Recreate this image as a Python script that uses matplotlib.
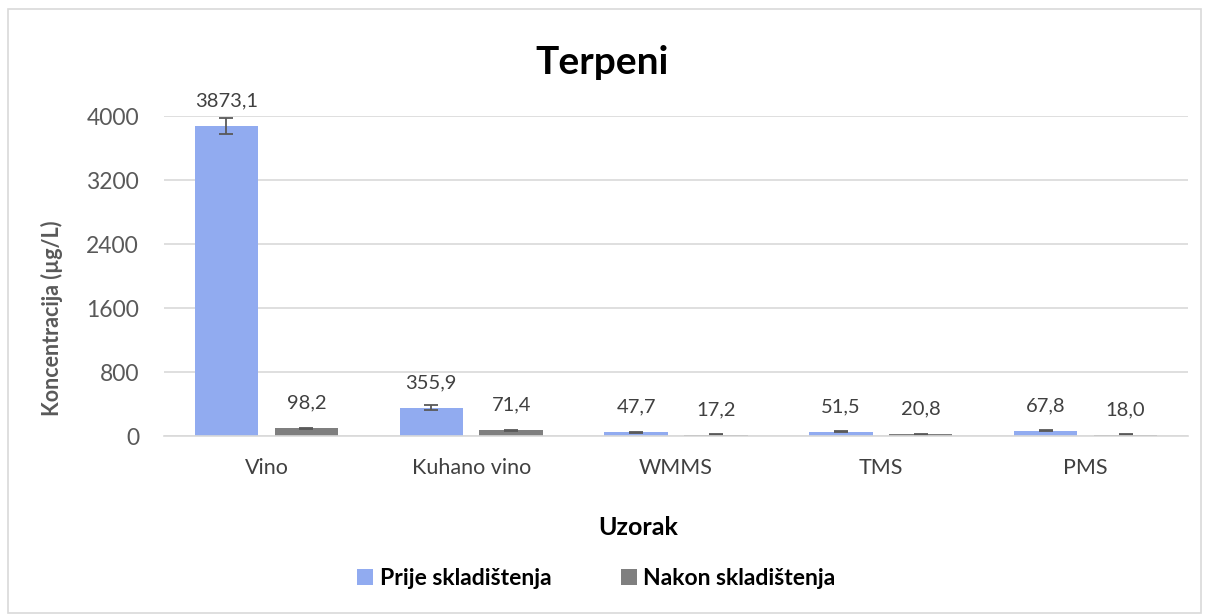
import numpy as np
import matplotlib.pyplot as plt
from matplotlib.patches import Rectangle

plt.rcParams["font.family"] = ["Lato", "DejaVu Sans"]

categories = ["Vino", "Kuhano vino", "WMMS", "TMS", "PMS"]
prije = [3873.1, 355.9, 47.7, 51.5, 67.8]
nakon = [98.2, 71.4, 17.2, 20.8, 18.0]
prije_err = [100, 35, 6, 6, 6]
nakon_err = [8, 6, 3, 3, 3]
series_names = ["Prije skladištenja", "Nakon skladištenja"]
yticks = [0, 800, 1600, 2400, 3200, 4000]

BLUE = "#91abf0"
GRAY = "#7f7f7f"
TXT = "#595959"

fig = plt.figure(figsize=(12.05, 6.15), dpi=100, facecolor="white")
ax = fig.add_axes([0.1361, 0.291, 0.8498, 0.520])

x = np.arange(len(categories))
w = 0.31
off = 0.195
ekw = dict(ecolor="#595959", elinewidth=1.3, capsize=5, capthick=1.3)
b1 = ax.bar(x - off, prije, w, color=BLUE, yerr=prije_err, error_kw=ekw,
            label=series_names[0], zorder=2)
b2 = ax.bar(x + off, nakon, w, color=GRAY, yerr=nakon_err, error_kw=ekw,
            label=series_names[1], zorder=2)

for bars, vals in ((b1, prije), (b2, nakon)):
    for rect, v in zip(bars, vals):
        ax.annotate(f"{v:.1f}".replace(".", ","),
                    (rect.get_x() + rect.get_width() / 2, v),
                    xytext=(0, 12), textcoords="offset points",
                    ha="center", va="bottom", fontsize=14.5, color="#404040")

ax.set_xlim(-0.5, len(categories) - 0.5)
ax.set_ylim(0, 4000)
ax.set_yticks(yticks)
ax.set_xticks(x)
ax.set_xticklabels(categories)
ax.yaxis.grid(True, color="#d9d9d9", linewidth=1.2, zorder=0)
ax.set_axisbelow(True)
for s in ("top", "right", "left"):
    ax.spines[s].set_visible(False)
ax.spines["bottom"].set_color("#d9d9d9")
ax.spines["bottom"].set_linewidth(1.2)
ax.tick_params(axis="y", length=0, pad=18, labelsize=16.5, labelcolor=TXT)
ax.tick_params(axis="x", length=0, pad=16, labelsize=15.5, labelcolor="#404040")

fig.text(0.5, 0.899, "Terpeni", ha="center", va="center",
         fontsize=28, fontweight="bold", color="black")
fig.text(0.043, 0.482, "Koncentracija (µg/L)", rotation=90, ha="center",
         va="center", fontsize=15.5, fontweight="bold", color=TXT)
fig.text(0.53, 0.143, "Uzorak", ha="center", va="center",
         fontsize=18, fontweight="bold", color="black")

leg = fig.legend(handles=[b1, b2], loc="center", bbox_to_anchor=(0.495, 0.06),
                 ncol=2, frameon=False, handlelength=0.7, handleheight=0.7,
                 handletextpad=0.3, columnspacing=3.0,
                 prop={"size": 16.5, "weight": "bold"})

fig.add_artist(Rectangle((0.007, 0.003), 0.99, 0.982, transform=fig.transFigure,
                         fill=False, edgecolor="#d9d9d9", linewidth=1.2))

fig.savefig("out.png", dpi=100, facecolor="white")
